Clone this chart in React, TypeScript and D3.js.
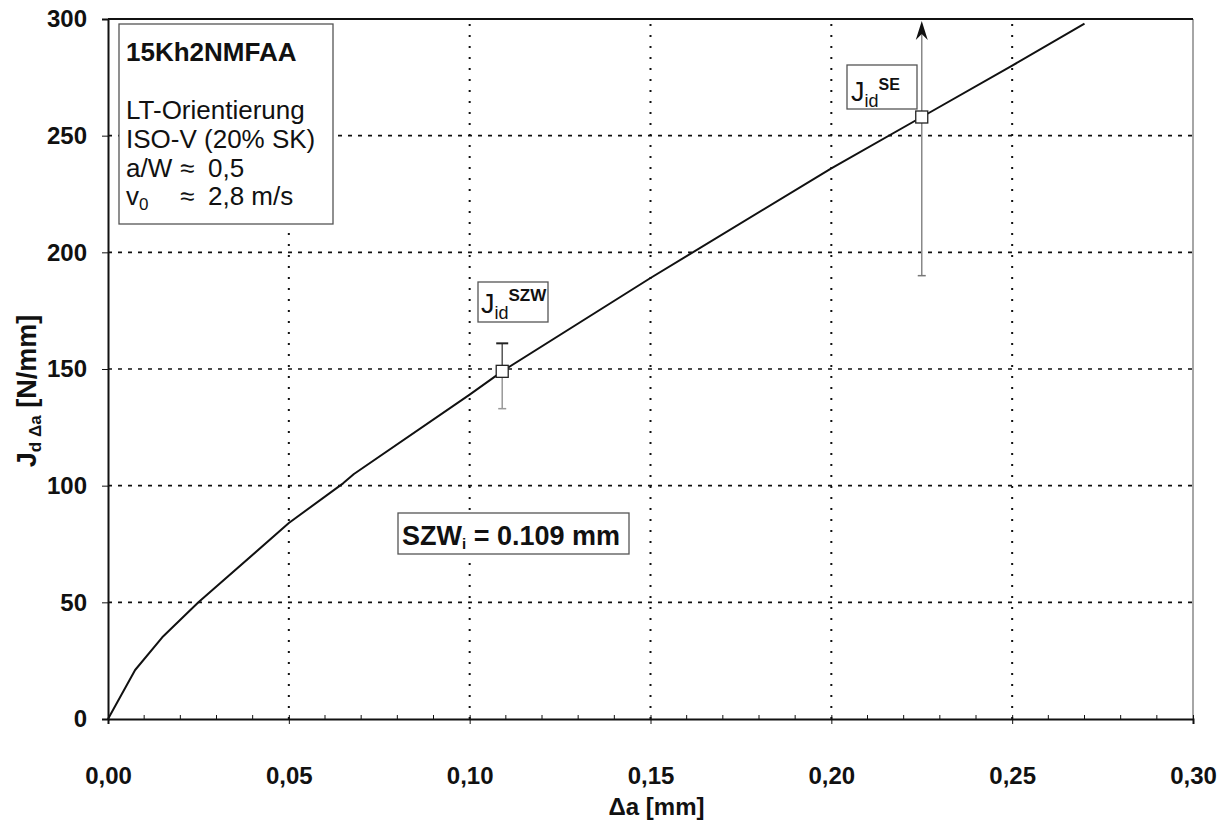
import React, { useEffect, useRef } from 'react';
import * as d3 from 'd3';

// curve J_d(Δa)
const deltaA = [0, 0.0075, 0.015, 0.025, 0.05, 0.065, 0.068, 0.1, 0.109, 0.15, 0.2, 0.225, 0.25, 0.27];
const jValues = [0, 21, 35, 50, 84, 101, 105, 139, 149, 189, 236, 258, 280, 298];

// measured points with scatter
const pointNames = ['SZW', 'SE'];
const pointX = [0.109, 0.225];
const pointY = [149, 258];
const pointLo = [133, 190];
const pointHi = [161, 300];

const xTicks = [0, 0.05, 0.1, 0.15, 0.2, 0.25, 0.3];
const xMinor = d3.range(0, 0.3001, 0.01);
const yTicks = [0, 50, 100, 150, 200, 250, 300];

const W = 1223;
const H = 820;
const margin = { top: 19, right: 30, bottom: 101, left: 108 };
const FONT = '"Liberation Sans", Arial, sans-serif';

const App = () => {
  const svgRef = useRef<SVGSVGElement>(null);

  useEffect(() => {
    const svg = d3.select(svgRef.current);
    svg.selectAll('*').remove();

    const x = d3.scaleLinear().domain([0, 0.3]).range([margin.left, W - margin.right]);
    const y = d3.scaleLinear().domain([0, 300]).range([H - margin.bottom, margin.top]);
    const x0 = x(0), x1 = x(0.3), y0 = y(0), y1 = y(300);

    svg.append('rect').attr('width', W).attr('height', H).attr('fill', '#fff');

    /* grid --------------------------------------------- */
    svg.append('g')
      .selectAll('line')
      .data(yTicks.filter(d => d > 0 && d < 300))
      .join('line')
      .attr('x1', x0).attr('x2', x1)
      .attr('y1', d => y(d)).attr('y2', d => y(d))
      .attr('stroke', '#111').attr('stroke-width', 1.6)
      .attr('stroke-dasharray', '4 6');

    svg.append('g')
      .selectAll('line')
      .data(xTicks.filter(d => d > 0 && d < 0.3))
      .join('line')
      .attr('x1', d => x(d)).attr('x2', d => x(d))
      .attr('y1', y0).attr('y2', y1)
      .attr('stroke', '#111').attr('stroke-width', 2)
      .attr('stroke-dasharray', '2 9');

    /* frame --------------------------------------------- */
    svg.append('line').attr('x1', x1).attr('x2', x1).attr('y1', y1).attr('y2', y0)
      .attr('stroke', '#888').attr('stroke-width', 1.5);
    svg.append('line').attr('x1', x0).attr('x2', x1).attr('y1', y1).attr('y2', y1)
      .attr('stroke', '#111').attr('stroke-width', 2);

    // X axis
    const xAxis = d3.axisBottom(x)
      .tickValues(xTicks)
      .tickFormat(d => d3.format('.2f')(d as number).replace('.', ','))
      .tickSize(5)
      .tickPadding(60);
    const gx = svg.append('g').attr('transform', `translate(0, ${y0})`).call(xAxis);
    gx.select('.domain').attr('stroke', '#111').attr('stroke-width', 2);
    gx.selectAll('.tick line').attr('y1', -4).attr('stroke', '#111');
    gx.selectAll('text')
      .attr('font-family', FONT).attr('font-size', 24).attr('font-weight', 'bold').attr('fill', '#111')
      .attr('dy', '0');
    gx.selectAll('.minor')
      .data(xMinor.filter(d => Math.abs(d * 20 - Math.round(d * 20)) > 1e-6))
      .join('line')
      .attr('class', 'minor')
      .attr('x1', d => x(d)).attr('x2', d => x(d))
      .attr('y1', 0).attr('y2', -4)
      .attr('stroke', '#111');

    // Y axis
    const yAxis = d3.axisLeft(y)
      .tickValues(yTicks)
      .tickSize(6)
      .tickPadding(15);
    const gy = svg.append('g').attr('transform', `translate(${x0}, 0)`).call(yAxis);
    gy.select('.domain').attr('stroke', '#111').attr('stroke-width', 2);
    gy.selectAll('.tick line').attr('stroke', '#111');
    gy.selectAll('text')
      .attr('font-family', FONT).attr('font-size', 24).attr('font-weight', 'bold').attr('fill', '#111');

    // axis titles
    svg.append('text')
      .attr('x', (x0 + x1) / 2 + 6).attr('y', 815)
      .attr('text-anchor', 'middle')
      .attr('font-family', FONT).attr('font-size', 24).attr('font-weight', 'bold').attr('fill', '#111')
      .text('Δa [mm]');

    const yt = svg.append('text')
      .attr('transform', `translate(36, 391) rotate(-90)`)
      .attr('text-anchor', 'middle')
      .attr('font-family', FONT).attr('font-size', 27).attr('font-weight', 'bold').attr('fill', '#111');
    yt.append('tspan').text('J');
    yt.append('tspan').attr('font-size', 17).attr('dy', 5).text('d Δa');
    yt.append('tspan').attr('dy', -5).text(' [N/mm]');

    /* curve --------------------------------------------- */
    const line = d3.line<number>()
      .x((_, i) => x(deltaA[i]))
      .y(d => y(d))
      .curve(d3.curveLinear);
    svg.append('path')
      .datum(jValues)
      .attr('d', line)
      .attr('fill', 'none')
      .attr('stroke', '#111')
      .attr('stroke-width', 2)
      .attr('stroke-linejoin', 'round');

    /* points with scatter ------------------------------- */
    // SZW
    const sx = x(pointX[0]);
    svg.append('line').attr('x1', sx).attr('x2', sx).attr('y1', y(pointY[0])).attr('y2', y(pointHi[0]))
      .attr('stroke', '#555').attr('stroke-width', 1.5);
    svg.append('line').attr('x1', sx).attr('x2', sx).attr('y1', y(pointY[0])).attr('y2', y(pointLo[0]))
      .attr('stroke', '#999').attr('stroke-width', 1.5);
    svg.append('line').attr('x1', sx - 6).attr('x2', sx + 6).attr('y1', y(pointHi[0])).attr('y2', y(pointHi[0]))
      .attr('stroke', '#222').attr('stroke-width', 2);
    svg.append('line').attr('x1', sx - 4).attr('x2', sx + 4).attr('y1', y(pointLo[0])).attr('y2', y(pointLo[0]))
      .attr('stroke', '#999').attr('stroke-width', 1.5);

    // SE
    const ex = x(pointX[1]);
    svg.append('line').attr('x1', ex).attr('x2', ex).attr('y1', y(pointLo[1])).attr('y2', y(pointHi[1]) + 14)
      .attr('stroke', '#888').attr('stroke-width', 1.5);
    svg.append('line').attr('x1', ex - 4).attr('x2', ex + 4).attr('y1', y(pointLo[1])).attr('y2', y(pointLo[1]))
      .attr('stroke', '#777').attr('stroke-width', 1.5);
    const ty = y(pointHi[1]) + 2;
    svg.append('path')
      .attr('d', `M${ex},${ty} L${ex - 6},${ty + 19} L${ex},${ty + 13} L${ex + 6},${ty + 19} Z`)
      .attr('fill', '#111');

    svg.append('g')
      .selectAll('rect')
      .data(pointNames)
      .join('rect')
      .attr('x', (_, i) => x(pointX[i]) - 6)
      .attr('y', (_, i) => y(pointY[i]) - 6)
      .attr('width', 12).attr('height', 12)
      .attr('fill', '#fff').attr('stroke', '#222').attr('stroke-width', 1.3);

    /* labels ------------------------------------------- */
    const box = (bx: number, by: number, bw: number, bh: number) =>
      svg.append('rect').attr('x', bx).attr('y', by).attr('width', bw).attr('height', bh)
        .attr('fill', '#fff').attr('stroke', '#555').attr('stroke-width', 1.3);

    box(478, 282, 70, 40);
    const l1 = svg.append('text').attr('x', 481).attr('y', 313)
      .attr('font-family', FONT).attr('font-size', 27).attr('fill', '#111');
    l1.append('tspan').text('J');
    l1.append('tspan').attr('font-size', 18).attr('dy', 6).text('id');
    l1.append('tspan').attr('font-size', 17).attr('font-weight', 'bold').attr('dy', -18).text('SZW');

    box(847, 65, 70, 44);
    const l2 = svg.append('text').attr('x', 851).attr('y', 101)
      .attr('font-family', FONT).attr('font-size', 27).attr('fill', '#111');
    l2.append('tspan').text('J');
    l2.append('tspan').attr('font-size', 18).attr('dy', 6).text('id');
    l2.append('tspan').attr('font-size', 16).attr('font-weight', 'bold').attr('dy', -17).text('SE');

    box(398, 513, 231, 41);
    const l3 = svg.append('text').attr('x', 402).attr('y', 545)
      .attr('font-family', FONT).attr('font-size', 27).attr('font-weight', 'bold').attr('fill', '#111');
    l3.append('tspan').text('SZW');
    l3.append('tspan').attr('font-size', 15).attr('dy', 4).text('i');
    l3.append('tspan').attr('dy', -4).text(' = 0.109 mm');

    // material info box
    box(119, 24, 214, 200);
    const info = svg.append('g').attr('font-family', FONT).attr('font-size', 26).attr('fill', '#111');
    info.append('text').attr('x', 126).attr('y', 61).attr('font-weight', 'bold').text('15Kh2NMFAA');
    info.append('text').attr('x', 126).attr('y', 119).text('LT-Orientierung');
    info.append('text').attr('x', 126).attr('y', 148).text('ISO-V (20% SK)');
    info.append('text').attr('x', 126).attr('y', 177).text('a/W');
    info.append('text').attr('x', 180).attr('y', 177).text('≈');
    info.append('text').attr('x', 208).attr('y', 177).text('0,5');
    const v0 = info.append('text').attr('x', 126).attr('y', 205);
    v0.append('tspan').text('v');
    v0.append('tspan').attr('font-size', 17).attr('dy', 5).text('0');
    info.append('text').attr('x', 180).attr('y', 205).text('≈');
    info.append('text').attr('x', 208).attr('y', 205).text('2,8 m/s');
  }, []);

  return (
    <svg
      ref={svgRef}
      width={W}
      height={H}
      style={{ position: 'absolute', left: 0, top: 0 }}
    />
  );
};

export default App;
